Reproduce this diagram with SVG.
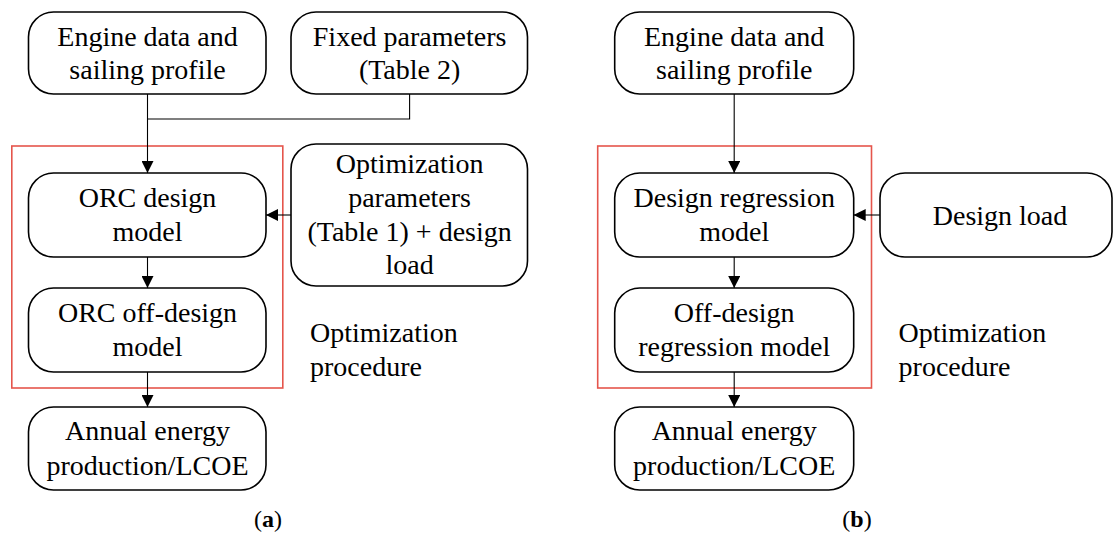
<svg xmlns="http://www.w3.org/2000/svg" width="1113" height="533" viewBox="0 0 1113 533">
<style>
.box{fill:#fff;stroke:#000;stroke-width:1.6}
.grp{fill:none;stroke:#e5554c;stroke-width:1.6}
.t{font-size:28px;fill:#000;text-anchor:middle}
.ts{font-size:28px;fill:#000}
.cap{font-size:24px;fill:#000;text-anchor:middle}
.c{fill:none;stroke:#000;stroke-width:1.1}
</style>
<defs>
<marker id="ah" markerWidth="12" markerHeight="12" viewBox="0 0 12 12" refX="12" refY="6" orient="auto" markerUnits="userSpaceOnUse">
<path d="M0,0 L12,6 L0,12 Z" fill="#000"/>
</marker>
</defs>
<rect class="grp" x="11.8" y="146" width="271" height="242"/>
<rect class="grp" x="597.7" y="146" width="273.8" height="242"/>
<g id="connectors">
<path class="c" d="M147.5,94 V173" marker-end="url(#ah)"/>
<path class="c" d="M409.6,94 V119 H147.5"/>
<path class="c" d="M291,215 H266" marker-end="url(#ah)"/>
<path class="c" d="M147.5,257 V288" marker-end="url(#ah)"/>
<path class="c" d="M147.5,372 V407" marker-end="url(#ah)"/>
<path class="c" d="M734.2,94 V173" marker-end="url(#ah)"/>
<path class="c" d="M880,215 H853.7" marker-end="url(#ah)"/>
<path class="c" d="M734.2,257 V288" marker-end="url(#ah)"/>
<path class="c" d="M734.2,372 V407" marker-end="url(#ah)"/>
</g>
<g font-family="Liberation Serif, Times New Roman, serif">
<g id="engineA"><rect class="box" x="28.5" y="12" width="237.5" height="82" rx="25"/>
<text class="t" x="147.5" y="46">Engine data and</text><text class="t" x="147.5" y="79">sailing profile</text></g>
<g id="fixedParams"><rect class="box" x="291" y="12" width="236.5" height="82" rx="25"/>
<text class="t" x="409.6" y="46">Fixed parameters</text><text class="t" x="409.6" y="79">(Table 2)</text></g>
<g id="orcDesign"><rect class="box" x="28.5" y="173" width="237.5" height="84" rx="25"/>
<text class="t" x="147.5" y="207">ORC design</text><text class="t" x="147.5" y="241">model</text></g>
<g id="optParams"><rect class="box" x="291" y="144" width="236.5" height="142" rx="25"/>
<text class="t" x="409.6" y="173">Optimization</text><text class="t" x="409.6" y="207">parameters</text><text class="t" x="409.6" y="241">(Table 1) + design</text><text class="t" x="409.6" y="274">load</text></g>
<g id="orcOff"><rect class="box" x="28.5" y="288" width="237.5" height="84" rx="25"/>
<text class="t" x="147.5" y="322">ORC off-design</text><text class="t" x="147.5" y="356">model</text></g>
<g id="annualA"><rect class="box" x="28.5" y="407" width="237.5" height="83" rx="25"/>
<text class="t" x="147.5" y="440">Annual energy</text><text class="t" x="147.5" y="475">production/LCOE</text></g>
<g id="optProcA"><text class="ts" x="310" y="342">Optimization</text><text class="ts" x="310" y="376">procedure</text></g>
<text class="cap" x="268" y="527">(<tspan font-weight="bold">a</tspan>)</text>
<g id="engineB"><rect class="box" x="614.7" y="12" width="239" height="82" rx="25"/>
<text class="t" x="734.2" y="46">Engine data and</text><text class="t" x="734.2" y="79">sailing profile</text></g>
<g id="designReg"><rect class="box" x="614.7" y="173" width="239" height="84" rx="25"/>
<text class="t" x="734.2" y="207">Design regression</text><text class="t" x="734.2" y="241">model</text></g>
<g id="designLoad"><rect class="box" x="880" y="173" width="232" height="84" rx="25"/>
<text class="t" x="1000" y="225">Design load</text></g>
<g id="offReg"><rect class="box" x="614.7" y="288" width="239" height="84" rx="25"/>
<text class="t" x="734.2" y="322">Off-design</text><text class="t" x="734.2" y="356">regression model</text></g>
<g id="annualB"><rect class="box" x="614.7" y="407" width="239" height="83" rx="25"/>
<text class="t" x="734.2" y="440">Annual energy</text><text class="t" x="734.2" y="475">production/LCOE</text></g>
<g id="optProcB"><text class="ts" x="898.6" y="342">Optimization</text><text class="ts" x="898.6" y="376">procedure</text></g>
<text class="cap" x="857" y="527">(<tspan font-weight="bold">b</tspan>)</text>
</g>
</svg>
